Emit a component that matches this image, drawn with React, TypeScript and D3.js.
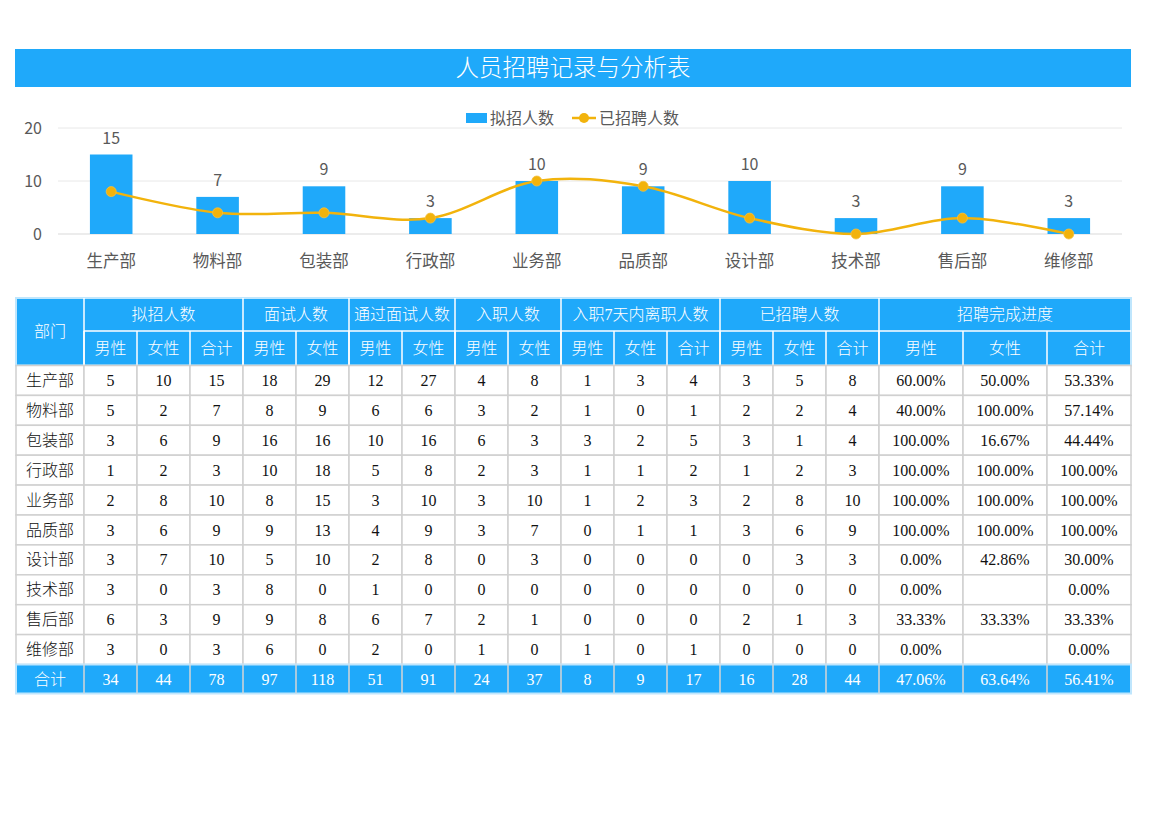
import React from 'react';
import * as d3 from 'd3';

// departments
const categories = ['生产部', '物料部', '包装部', '行政部', '业务部', '品质部', '设计部', '技术部', '售后部', '维修部'];

// table columns
const planMale = [5, 5, 3, 1, 2, 3, 3, 3, 6, 3];
const planFemale = [10, 2, 6, 2, 8, 6, 7, 0, 3, 0];
const planTotal = [15, 7, 9, 3, 10, 9, 10, 3, 9, 3];
const interviewMale = [18, 8, 16, 10, 8, 9, 5, 8, 9, 6];
const interviewFemale = [29, 9, 16, 18, 15, 13, 10, 0, 8, 0];
const passMale = [12, 6, 10, 5, 3, 4, 2, 1, 6, 2];
const passFemale = [27, 6, 16, 8, 10, 9, 8, 0, 7, 0];
const joinMale = [4, 3, 6, 2, 3, 3, 0, 0, 2, 1];
const joinFemale = [8, 2, 3, 3, 10, 7, 3, 0, 1, 0];
const leftMale = [1, 1, 3, 1, 1, 0, 0, 0, 0, 1];
const leftFemale = [3, 0, 2, 1, 2, 1, 0, 0, 0, 0];
const leftTotal = [4, 1, 5, 2, 3, 1, 0, 0, 0, 1];
const hiredMale = [3, 2, 3, 1, 2, 3, 0, 0, 2, 0];
const hiredFemale = [5, 2, 1, 2, 8, 6, 3, 0, 1, 0];
const hiredTotal = [8, 4, 4, 3, 10, 9, 3, 0, 3, 0];
const progressMale = ['60.00%', '40.00%', '100.00%', '100.00%', '100.00%', '100.00%', '0.00%', '0.00%', '33.33%', '0.00%'];
const progressFemale = ['50.00%', '100.00%', '16.67%', '100.00%', '100.00%', '100.00%', '42.86%', '', '33.33%', ''];
const progressTotal = ['53.33%', '57.14%', '44.44%', '100.00%', '100.00%', '100.00%', '30.00%', '0.00%', '33.33%', '0.00%'];
const totalRow = ['34', '44', '78', '97', '118', '51', '91', '24', '37', '8', '9', '17', '16', '28', '44', '47.06%', '63.64%', '56.41%'];

const groupHeaders: [string, number][] = [
  ['拟招人数', 3], ['面试人数', 2], ['通过面试人数', 2], ['入职人数', 2],
  ['入职7天内离职人数', 3], ['已招聘人数', 3], ['招聘完成进度', 3],
];
const subHeaders = ['男性', '女性', '合计', '男性', '女性', '男性', '女性', '男性', '女性',
  '男性', '女性', '合计', '男性', '女性', '合计', '男性', '女性', '合计'];

const yTicks = [0, 10, 20];

const BLUE = '#1FA9FA';
const GOLD = '#F2B30C';
const GREY_TEXT = '#595959';
const CHART_FONT = '"Noto Sans CJK SC", "Noto Sans", sans-serif';
const TABLE_FONT = '"Liberation Serif", "Noto Sans CJK SC", serif';

function Chart() {
  const x = d3.scaleBand<string>().domain(categories).range([58, 1122]).padding(0);
  const y = d3.scaleLinear().domain([0, 20]).range([234, 128]);
  const barW = x.bandwidth() * 0.4;
  const cx = (c: string) => (x(c) as number) + x.bandwidth() / 2;

  const line = d3.line<number>()
    .x((_, i) => cx(categories[i]))
    .y(d => y(d))
    .curve(d3.curveCardinal.tension(0));

  return (
    <g fontFamily={CHART_FONT}>
      {yTicks.map(t => (
        <g key={t}>
          <line x1={58} x2={1122} y1={y(t)} y2={y(t)} stroke={t === 0 ? '#D9D9D9' : '#E8E8E8'} strokeWidth={1} />
          <text x={42} y={y(t)} dy="0.35em" textAnchor="end" fontSize={16} fill={GREY_TEXT}>{t}</text>
        </g>
      ))}
      {categories.map((c, i) => (
        <g key={c}>
          <rect x={cx(c) - barW / 2} y={y(planTotal[i])} width={barW} height={y(0) - y(planTotal[i])} fill={BLUE} />
          <text x={cx(c)} y={y(planTotal[i]) - 11} textAnchor="middle" fontSize={16} fill={GREY_TEXT}>{planTotal[i]}</text>
          <text x={cx(c)} y={261} dy="0.35em" textAnchor="middle" fontSize={16.5} fill={GREY_TEXT}>{c}</text>
        </g>
      ))}
      <path d={line(hiredTotal) || ''} fill="none" stroke={GOLD} strokeWidth={2.5} />
      {hiredTotal.map((v, i) => (
        <circle key={i} cx={cx(categories[i])} cy={y(v)} r={5} fill={GOLD} stroke="#F5C040" strokeWidth={0.8} />
      ))}
      {/* legend */}
      <rect x={466} y={113} width={21} height={10} fill={BLUE} />
      <text x={490} y={118} dy="0.35em" fontSize={16} fill={GREY_TEXT}>拟招人数</text>
      <line x1={572} x2={596} y1={118} y2={118} stroke={GOLD} strokeWidth={2.5} />
      <circle cx={584} cy={118} r={5} fill={GOLD} />
      <text x={599} y={118} dy="0.35em" fontSize={16} fill={GREY_TEXT}>已招聘人数</text>
    </g>
  );
}

function Table() {
  const colW = [68, ...d3.range(15).map(() => 53), 84, 84, 84];
  const colX = [16];
  colW.forEach(w => colX.push(colX[colX.length - 1] + w));
  const h1Top = 298, h2Top = 331, bodyTop = 365.5, rowH = 29.9;
  const totalTop = bodyTop + rowH * categories.length;
  const totalBottom = totalTop + 29;

  const rows = categories.map((c, i) => [
    c, planMale[i], planFemale[i], planTotal[i], interviewMale[i], interviewFemale[i],
    passMale[i], passFemale[i], joinMale[i], joinFemale[i], leftMale[i], leftFemale[i], leftTotal[i],
    hiredMale[i], hiredFemale[i], hiredTotal[i], progressMale[i], progressFemale[i], progressTotal[i],
  ].map(String));

  let gx = 1;
  const groups = groupHeaders.map(([name, span]) => {
    const g = { name, x0: colX[gx], x1: colX[gx + span] };
    gx += span;
    return g;
  });
  const right = colX[colX.length - 1];

  return (
    <g fontFamily={TABLE_FONT} fontSize={16} fontWeight={300}>
      {/* header background */}
      <rect x={16} y={h1Top} width={right - 16} height={bodyTop - h1Top} fill={BLUE} stroke="#BFE6FD" strokeWidth={2} />
      <text x={(colX[0] + colX[1]) / 2} y={(h1Top + bodyTop) / 2} dy="0.35em" textAnchor="middle" fill="#fff">部门</text>
      {groups.map((g, i) => (
        <g key={i}>
          <line x1={g.x0} x2={g.x0} y1={h1Top} y2={bodyTop} stroke="#fff" strokeWidth={1.5} />
          <line x1={g.x0} x2={g.x1} y1={h2Top} y2={h2Top} stroke="#fff" strokeWidth={1.5} />
          <text x={(g.x0 + g.x1) / 2} y={(h1Top + h2Top) / 2} dy="0.35em" textAnchor="middle" fill="#fff">{g.name}</text>
        </g>
      ))}
      {subHeaders.map((s, i) => (
        <g key={i}>
          <line x1={colX[i + 1]} x2={colX[i + 1]} y1={h2Top} y2={bodyTop} stroke="#fff" strokeWidth={1.5} />
          <text x={(colX[i + 1] + colX[i + 2]) / 2} y={(h2Top + bodyTop) / 2} dy="0.35em" textAnchor="middle" fill="#fff">{s}</text>
        </g>
      ))}
      {/* body */}
      {rows.map((r, ri) => {
        const top = bodyTop + ri * rowH;
        return (
          <g key={ri}>
            {r.map((v, ci) => (
              <g key={ci}>
                <rect x={colX[ci]} y={top} width={colW[ci]} height={rowH} fill="#fff" stroke="#D0D0D0" strokeWidth={1.5} />
                <text x={colX[ci] + colW[ci] / 2} y={top + rowH / 2} dy="0.35em" textAnchor="middle" fill="#111">{v}</text>
              </g>
            ))}
          </g>
        );
      })}
      {/* total row */}
      <rect x={16} y={totalTop} width={right - 16} height={totalBottom - totalTop} fill={BLUE} stroke="#BFE6FD" strokeWidth={2} />
      {['合计', ...totalRow].map((v, ci) => (
        <g key={ci}>
          {ci > 0 && <line x1={colX[ci]} x2={colX[ci]} y1={totalTop} y2={totalBottom} stroke="#D6D6D6" strokeWidth={1.5} />}
          <text x={colX[ci] + colW[ci] / 2} y={(totalTop + totalBottom) / 2} dy="0.35em" textAnchor="middle" fill="#fff">{v}</text>
        </g>
      ))}
    </g>
  );
}

export default function App() {
  return (
    <svg width={1170} height={827} style={{ position: 'absolute', left: 0, top: 0, background: '#fff' }}>
      <rect x={15} y={49} width={1116} height={38} fill={BLUE} />
      <text x={573} y={68} dy="0.35em" textAnchor="middle" fontSize={23.5} fontWeight={300} fill="#fff" fontFamily={CHART_FONT}>人员招聘记录与分析表</text>
      <Chart />
      <Table />
    </svg>
  );
}
